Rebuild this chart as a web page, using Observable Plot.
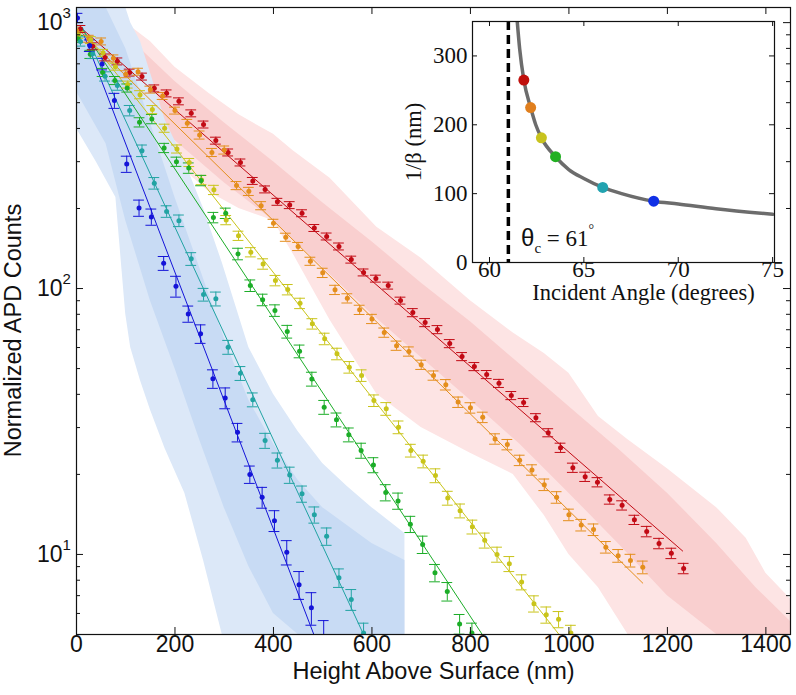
<!DOCTYPE html>
<html><head><meta charset="utf-8">
<script src="https://cdn.jsdelivr.net/npm/d3@7"></script>
<script src="https://cdn.jsdelivr.net/npm/@observablehq/plot@0.6"></script>
<style>
body{margin:0;background:#fff}
#wrap{position:relative;width:796px;height:695px;overflow:hidden}
#wrap svg{position:absolute}
</style>
</head><body><div id="wrap"></div>
<script>
// ---------- main chart data ----------
const series = ["red", "orange", "yellow", "green", "teal", "blue"];
const colors = {red: "#c20a14", orange: "#e48e1c", yellow: "#c9c41a", green: "#1cad28", teal: "#21a3a3", blue: "#1414d8"};
// [height (nm), normalized counts, relative error]
const blueData = [[2,1042,.04],[27,820,.05],[52,699,.05],[77,509,.065],[102,294,.07],[127,201,.07],[152,186,.07],[177,124.5,.06],[202,102,.09],[227,80.3,.07],[252,67.6,.08],[277,45.8,.08],[302,38.8,.09],[327,28.8,.08],[352,20.0,.075],[377,16.4,.09],[402,13.4,.09],[427,10.2,.105],[452,7.7,.12],[477,6.3,.14],[502,4.7,.2]];
const tealData = [[8,850,.04],[33,763,.04],[58,628,.04],[83,580,.04],[108,467,.045],[133,330,.05],[158,249,.05],[183,195,.05],[208,180,.05],[233,129.3,.055],[258,94.9,.055],[283,91.5,.06],[308,60.2,.06],[333,48.0,.06],[358,38.2,.06],[383,26.8,.065],[408,22.6,.065],[433,19.9,.07],[458,16.9,.07],[483,14.1,.07],[508,11.7,.075],[533,8.17,.08],[558,6.77,.09],[583,5.06,.09]];
const greenData = [[3,869,.03],[28,760,.035],[53,650,.035],[78,606,.035],[103,568,.035],[128,422,.04],[153,434,.04],[178,338,.04],[203,300,.04],[228,284,.045],[253,255,.045],[278,185,.045],[303,192,.045],[328,135,.05],[353,102.6,.05],[378,90.7,.05],[403,82.7,.05],[428,68.9,.055],[453,58.1,.055],[478,45.7,.06],[503,35.8,.06],[528,32.1,.06],[553,28.2,.06],[578,24.6,.065],[603,21.7,.065],[628,17.1,.07],[653,15.9,.07],[678,13.0,.07],[703,10.9,.075],[728,8.53,.075],[753,7.26,.08],[778,5.48,.085],[803,5.06,.09]];
const yellowData = [[4,900,.03],[29,860,.03],[54,770,.03],[79,683,.03],[104,585,.03],[129,536,.035],[154,471,.035],[179,401,.035],[204,335,.035],[229,298,.035],[254,256,.04],[279,235,.04],[304,181,.04],[329,158,.04],[354,137,.04],[379,123.8,.045],[404,107.2,.045],[429,99.1,.045],[454,88.0,.045],[479,73.7,.045],[504,64.7,.05],[529,56.8,.05],[554,50.6,.05],[579,47.1,.05],[604,37.9,.05],[629,35.3,.055],[654,30.1,.055],[679,24.6,.055],[704,22.4,.055],[729,19.8,.06],[754,16.3,.06],[779,14.6,.06],[804,12.7,.06],[829,11.3,.065],[854,10.0,.065],[879,9.22,.065],[904,7.87,.065],[929,6.53,.07],[954,5.93,.07],[979,5.70,.07],[1004,5.06,.07]];
const orangeData = [[0,934,.03],[25,870,.03],[50,850,.03],[75,734,.03],[100,640,.03],[125,654,.03],[150,560,.03],[175,530,.03],[200,467,.03],[225,418,.035],[250,378,.035],[275,325,.035],[300,332,.035],[325,244,.035],[350,232,.035],[375,205,.035],[400,176,.035],[425,156,.035],[450,144,.035],[475,126.7,.035],[500,114.6,.04],[525,98.9,.04],[550,91.9,.04],[575,83.2,.04],[600,76.9,.04],[625,68.3,.04],[650,61.0,.04],[675,58.0,.04],[700,51.7,.04],[725,47.1,.04],[750,43.5,.045],[775,37.4,.045],[800,35.6,.045],[825,32.8,.045],[850,27.2,.045],[875,25.9,.045],[900,22.6,.045],[925,20.8,.045],[950,18.3,.05],[975,16.4,.05],[1000,14.1,.05],[1025,12.9,.05],[1050,12.4,.05],[1075,10.65,.05],[1100,9.89,.055],[1125,9.49,.055],[1150,8.95,.055]];
const redData = [[8,947,.03],[33,815,.03],[58,740,.03],[83,715,.03],[108,649,.03],[133,627,.03],[158,566,.03],[183,542,.03],[208,506,.03],[233,456,.03],[258,414,.03],[283,360,.03],[308,325,.03],[333,298,.03],[358,254,.03],[383,236,.03],[408,212,.03],[433,206,.03],[458,192,.03],[483,169,.03],[508,157,.03],[533,144,.03],[558,128.5,.03],[583,115,.03],[608,109,.03],[633,102.6,.03],[658,90.1,.03],[683,81.2,.035],[708,74.5,.035],[733,70.1,.035],[758,62.1,.035],[783,55.5,.035],[808,50.9,.035],[833,47.5,.035],[858,44.0,.035],[883,39.6,.035],[908,37.3,.035],[933,32.7,.035],[958,28.7,.035],[983,25.2,.04],[1008,21.2,.04],[1033,19.6,.04],[1058,18.7,.04],[1083,16.1,.04],[1108,15.3,.04],[1133,13.5,.04],[1158,12.2,.045],[1183,11.0,.045],[1208,10.1,.045],[1233,8.86,.045]];
// exponential fits: [start height, start counts], [end height, end counts]
const fitStart = {blue: [15, 900], teal: [12, 960], green: [10, 960], yellow: [10, 944], orange: [10, 920], red: [8, 959]};
const fitEnd   = {blue: [482, 5], teal: [583, 5], green: [824, 5], yellow: [980, 5], orange: [1150, 7.8], red: [1231, 10.3]};
// raw-trace envelopes: [height, lower, upper] (outer extent and denser core)
const redTrace = [[0,800,1140],[50,650,1140],[80,560,1140],[100,480,1000],[150,380,850],[200,300,680],[270,230,540],[330,200,450],[400,180,380],[440,135,330],[515,76,260],[610,40,170],[700,30,130],[800,24,90],[887,20,68],[950,14,57],[1000,10,48],[1060,7.5,33],[1120,5,27],[1200,5,21],[1300,5,15],[1360,5,11.5],[1400,5,8.5],[1450,5,6.8]];
const redTraceCore = [[0,700,1140],[100,560,900],[200,360,600],[300,250,420],[400,180,300],[500,120,210],[600,80,150],[700,55,105],[800,38,75],[900,26,52],[1000,17,36],[1100,11,25],[1200,7,17],[1300,5,11],[1380,5,7.5],[1450,5,5.6]];
const blueTrace = [[0,400,1140],[40,300,1140],[80,220,1140],[100,80,1140],[110,60,1000],[130,45,850],[150,35,650],[180,25,430],[220,17,300],[258,9.5,200],[296,5,125],[350,5,60],[400,5,40],[450,5,29],[500,5,22],[550,5,18],[600,5,15],[667,5,12]];
const blueTraceCore = [[0,550,1140],[60,350,1140],[100,180,800],[150,90,420],[200,50,220],[250,27,120],[300,15,65],[350,9,38],[400,6,26],[450,5,19],[500,5,15],[600,5,11],[667,5,9.5]];
const xTicks = [0, 200, 400, 600, 800, 1000, 1200, 1400];
const yMajor = [10, 100, 1000];
const yExponents = ["1", "2", "3"];
const yMinor = [6,7,8,9,20,30,40,50,60,70,80,90,200,300,400,500,600,700,800,900];

// ---------- inset data ----------
const curveAngle = [61.47, 61.6, 61.82, 62.18, 62.45, 62.75, 63.5, 64.2, 65, 66, 67, 68.7, 70, 72, 75];
const curveDepth = [350, 310, 265, 225, 200, 181, 153.6, 135, 122, 109, 100, 89, 85, 78, 70];
const fitAngle = [61.82, 62.18, 62.75, 63.5, 66.0, 68.7];
const fitDepth = [265, 225, 181, 153.6, 109, 89];
const fitSeries = ["red", "orange", "yellow", "green", "teal", "blue"];
const insetColors = {red: "#c0100c", orange: "#e07f1e", yellow: "#c8c31e", green: "#22b022", teal: "#22a3b0", blue: "#1030e6"};
const criticalAngle = 61;
const insetXTicks = [60, 65, 70, 75];
const insetYTicks = [0, 100, 200, 300];

// ---------- build ----------
const dataBySeries = {red: redData, orange: orangeData, yellow: yellowData, green: greenData, teal: tealData, blue: blueData};
const points = series.flatMap(s => dataBySeries[s].map(([x, v, e]) => ({s, x, v, e, c: colors[s]})));
const fits = series.flatMap(s => [
  {s, x: fitStart[s][0], v: fitStart[s][1], c: colors[s]},
  {s, x: fitEnd[s][0], v: fitEnd[s][1], c: colors[s]}
]);

const W = 796, H = 695, mL = 76, mR = 6, mT = 7, mB = 61;
const pw = W - mL - mR, ph = H - mT - mB;
const sans = "Liberation Sans, Arial, Helvetica, sans-serif";
const serif = "Liberation Serif, Times New Roman, serif";
const band = (data, fill) => Plot.areaY(data, {x: d => d[0], y1: d => d[1], y2: d => d[2], fill, clip: true});

const main = Plot.plot({
  width: W, height: H,
  marginLeft: mL, marginRight: mR, marginTop: mT, marginBottom: mB,
  style: {fontFamily: sans, background: "white"},
  x: {domain: [0, 1450], axis: null},
  y: {type: "log", domain: [5, 1140], axis: null},
  color: {type: "identity"},
  marks: [
    band(redTrace, "#fde4e4"),
    band(redTraceCore, "#f9cfcf"),
    band(blueTrace, "#dce8f8"),
    band(blueTraceCore, "#c8dbf4"),
    Plot.line(fits, {x: "x", y: "v", z: "s", stroke: "c", strokeWidth: 1, clip: true}),
    Plot.ruleX(points, {x: "x", y1: d => d.v * (1 - d.e), y2: d => d.v * (1 + d.e), stroke: "c", strokeWidth: 1, clip: true}),
    Plot.ruleY(points, {y: d => d.v * (1 + d.e), x1: d => d.x - 11, x2: d => d.x + 11, stroke: "c", strokeWidth: 1, clip: true}),
    Plot.ruleY(points, {y: d => d.v * (1 - d.e), x1: d => d.x - 11, x2: d => d.x + 11, stroke: "c", strokeWidth: 1, clip: true}),
    Plot.dot(points, {x: "x", y: "v", r: 2.5, fill: "c", clip: true}),
    Plot.frame({stroke: "#111", strokeWidth: 1.2}),
    // inward ticks
    Plot.ruleX(xTicks, {x: d => d, insetTop: ph - 7, stroke: "#111"}),
    Plot.ruleX(xTicks, {x: d => d, insetBottom: ph - 7, stroke: "#111"}),
    Plot.ruleY(yMajor, {y: d => d, insetRight: pw - 7, stroke: "#111"}),
    Plot.ruleY(yMajor, {y: d => d, insetLeft: pw - 7, stroke: "#111"}),
    Plot.ruleY(yMinor, {y: d => d, insetRight: pw - 4, stroke: "#111"}),
    Plot.ruleY(yMinor, {y: d => d, insetLeft: pw - 4, stroke: "#111"}),
    // tick labels
    Plot.text(xTicks, {x: d => d, frameAnchor: "bottom", dy: 17, text: d => String(d), fontSize: 23, fill: "#111"}),
    Plot.text(yMajor, {y: d => d, frameAnchor: "left", dx: -14, text: () => "10", textAnchor: "end", fontSize: 23, fill: "#111"}),
    Plot.text(yMajor, {y: d => d, frameAnchor: "left", dx: -14, dy: -9, text: (d, i) => yExponents[i], textAnchor: "start", fontSize: 15, fill: "#111"}),
    // axis titles
    Plot.text(["Height Above Surface (nm)"], {frameAnchor: "bottom", dy: 44, text: d => d, fontSize: 23.5, fill: "#111"}),
    Plot.text(["Normalized APD Counts"], {x: -127, y: 69.5, rotate: -90, text: d => d, fontSize: 23.5, fill: "#111"})
  ]
});
main.style.left = "0px"; main.style.top = "0px";
document.getElementById("wrap").appendChild(main);

// ---------- inset ----------
const iW = 396, iH = 320, iL = 72, iR = 22, iT = 21, iB = 58;
const ipw = iW - iL - iR, iph = iH - iT - iB;
const insetPts = fitAngle.map((a, i) => ({a, d: fitDepth[i], c: insetColors[fitSeries[i]]}));
const curve = curveAngle.map((a, i) => ({a, d: curveDepth[i]}));
const inset = Plot.plot({
  width: iW, height: iH,
  marginLeft: iL, marginRight: iR, marginTop: iT, marginBottom: iB,
  style: {fontFamily: serif, background: "transparent", overflow: "visible"},
  x: {domain: [59.1, 75.1], axis: null},
  y: {domain: [0, 350], axis: null},
  color: {type: "identity"},
  marks: [
    Plot.frame({fill: "white", stroke: "none"}),
    Plot.ruleX([criticalAngle], {x: d => d, stroke: "black", strokeWidth: 3.5, strokeDasharray: "9,5"}),
    Plot.line(curve, {x: "a", y: "d", stroke: "#6c6c6c", strokeWidth: 3.5, curve: "monotone-x", clip: true}),
    Plot.dot(insetPts, {x: "a", y: "d", r: 5.5, fill: "c"}),
    Plot.frame({stroke: "#111", strokeWidth: 1.2}),
    Plot.ruleX(insetXTicks, {x: d => d, insetTop: iph - 5, stroke: "#111"}),
    Plot.ruleX(insetXTicks, {x: d => d, insetBottom: iph - 5, stroke: "#111"}),
    Plot.ruleY(insetYTicks, {y: d => d, insetRight: ipw - 5, stroke: "#111"}),
    Plot.ruleY(insetYTicks, {y: d => d, insetLeft: ipw - 5, stroke: "#111"}),
    Plot.text(insetXTicks, {x: d => d, frameAnchor: "bottom", dy: 14, text: d => String(d), fontSize: 23, fill: "#111"}),
    Plot.text(insetYTicks, {y: d => d, frameAnchor: "left", dx: -5, text: d => String(d), textAnchor: "end", fontSize: 23, fill: "#111"}),
    Plot.text(["Incident Angle (degrees)"], {frameAnchor: "bottom", dx: 20, dy: 37, text: d => d, fontSize: 22.5, fill: "#111"}),
    Plot.text(["1/\u03b2 (nm)"], {x: 56.0, y: 175, rotate: -90, text: d => d, fontSize: 22.5, fill: "#111"})
  ]
});
inset.style.left = "400px"; inset.style.top = "0px";
document.getElementById("wrap").appendChild(inset);

// critical-angle annotation
const sx = inset.scale("x"), sy = inset.scale("y");
const ann = d3.select(inset).append("text")
  .attr("x", sx.apply(61.7)).attr("y", sy.apply(23))
  .attr("text-anchor", "start")
  .attr("font-family", serif).attr("font-size", 23).attr("fill", "#111");
ann.append("tspan").attr("font-family", sans).attr("font-size", 24).text("\u03b8");
ann.append("tspan").attr("font-size", 15).attr("dy", 7).text("c");
ann.append("tspan").attr("dy", -7).text(" = 61");
ann.append("tspan").attr("font-size", 14).attr("dy", -12).text("\u00b0");
</script></body></html>
